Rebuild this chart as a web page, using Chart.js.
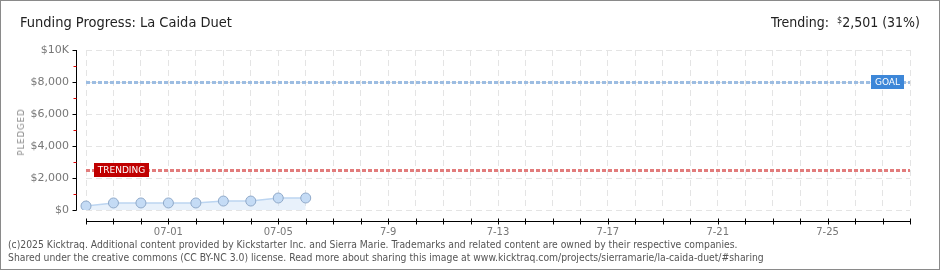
<!DOCTYPE html>
<html>
<head>
<meta charset="utf-8">
<script src="https://cdn.jsdelivr.net/npm/chart.js"></script>
<style>
  body { margin: 0; background: #fff; }
  #wrap { position: relative; width: 940px; height: 270px; box-sizing: border-box; border: 1px solid #8a8a8a; overflow: hidden; }
  #myChart { position: absolute; left: -1px; top: -1px; }
  .txt { position: absolute; white-space: nowrap; font-family: 'Liberation Sans Narrow', 'DejaVu Sans Condensed', sans-serif; }
  #title { left: 19px; top: 13px; font-size: 14.5px; color: #222; }
  #trend { right: 19px; top: 13px; font-size: 14px; color: #222; }
  #trend sup { font-size: 9px; vertical-align: 4px; }
  #pledged { left: 20px; top: 131px; transform: translate(-50%, -50%) rotate(-90deg); font-family: 'DejaVu Sans', sans-serif; font-size: 8.5px; letter-spacing: 1px; color: #888; }
  #foot { left: 7px; top: 237px; font-size: 10.3px; line-height: 13px; color: #555; }
</style>
</head>
<body>
<div id="wrap">
  <canvas id="myChart" width="940" height="270"></canvas>
  <div class="txt" id="title">Funding Progress: La Caida Duet</div>
  <div class="txt" id="trend">Trending:&nbsp; <sup>$</sup>2,501 (31%)</div>
  <div class="txt" id="pledged">PLEDGED</div>
  <div class="txt" id="foot">(c)2025 Kicktraq. Additional content provided by Kickstarter Inc. and Sierra Marie. Trademarks and related content are owned by their respective companies.<br>Shared under the creative commons (CC BY-NC 3.0) license. Read more about sharing this image at www.kicktraq.com/projects/sierramarie/la-caida-duet/#sharing</div>
</div>
<script>
// days from 06-28 to 07-28, only some get a label
const days = ['', '', '', '07-01', '', '', '', '07-05', '', '', '', '7-9', '', '', '', '7-13',
              '', '', '', '7-17', '', '', '', '7-21', '', '', '', '7-25', '', '', ''];
// pledged total per day
const pledged = [250, 440, 440, 440, 440, 560, 560, 750, 750];
const goal = 8000;
const trending = 2501;
const yTicks = [0, 2000, 4000, 6000, 8000, 10000];

// draws the offset axes, goal / trending lines and their tags
const kickPlugin = {
  id: 'kick',
  beforeDatasetsDraw(chart) {
    const c = chart.ctx, a = chart.chartArea, y = chart.scales.y;
    function dotted(v, col) {
      const py = Math.round(y.getPixelForValue(v)) + 0.5;
      c.save();
      c.strokeStyle = col;
      c.lineWidth = 3;
      c.setLineDash([4, 2]);
      c.beginPath(); c.moveTo(a.left, py); c.lineTo(a.right, py); c.stroke();
      c.restore();
    }
    dotted(goal, '#9dbde2');
    dotted(trending, '#e27c7c');
  },
  afterDraw(chart) {
    const c = chart.ctx, a = chart.chartArea, y = chart.scales.y, x = chart.scales.x;
    c.save();
    // y axis
    const ax = a.left - 9.5;
    c.strokeStyle = '#000'; c.lineWidth = 1;
    c.beginPath(); c.moveTo(ax, a.top); c.lineTo(ax, a.bottom + 0.5); c.stroke();
    for (let v = 0; v <= 10000; v += 1000) {
      const py = Math.round(y.getPixelForValue(v)) + 0.5;
      c.strokeStyle = v % 2000 === 0 ? '#000' : '#e00000';
      c.beginPath(); c.moveTo(v % 2000 === 0 ? ax - 4 : ax - 3, py); c.lineTo(ax, py); c.stroke();
    }
    // x axis
    const ay = a.bottom + 11.5;
    c.strokeStyle = '#000';
    c.beginPath(); c.moveTo(a.left, ay); c.lineTo(a.right, ay); c.stroke();
    for (let i = 0; i < days.length; i++) {
      const px = Math.round(x.getPixelForValue(i)) + 0.5;
      c.beginPath(); c.moveTo(px, ay - 3); c.lineTo(px, ay + 3); c.stroke();
    }
    // tags
    function tag(text, bx, cy, w, col, alignRight) {
      const h = 14;
      const left = alignRight ? bx - w : bx;
      c.fillStyle = col;
      c.fillRect(left, Math.round(cy - h / 2), w, h);
      c.fillStyle = '#fff';
      c.font = '9px "DejaVu Sans", sans-serif';
      c.textAlign = 'center'; c.textBaseline = 'middle';
      c.fillText(text, left + w / 2, cy + 0.5);
    }
    tag('GOAL', a.right - 6, y.getPixelForValue(goal), 33, '#3d87d8', true);
    tag('TRENDING', a.left + 8, y.getPixelForValue(trending), 55, '#c00000', false);
    c.restore();
  }
};

new Chart(document.getElementById('myChart'), {
  type: 'line',
  data: {
    labels: days,
    datasets: [{
      data: pledged,
      borderColor: '#bcd5f1',
      borderWidth: 1.5,
      backgroundColor: 'rgba(205,224,246,0.45)',
      fill: 'origin',
      tension: 0,
      pointRadius: 5,
      pointBackgroundColor: '#c4dbf5',
      pointBorderColor: '#8fa9c9',
      pointBorderWidth: 1
    }]
  },
  options: {
    responsive: false,
    animation: false,
    layout: { padding: { left: 0, top: 50, right: 30, bottom: 0 } },
    plugins: { legend: { display: false }, tooltip: { enabled: false } },
    scales: {
      x: {
        offset: false,
        afterFit(s) { s.height = 60; },
        grid: { color: '#e4e4e4', drawTicks: false },
        border: { display: false, dash: [6, 4] },
        ticks: { autoSkip: false, maxRotation: 0, padding: 16, color: '#777',
                 font: { family: 'DejaVu Sans', size: 10 } }
      },
      y: {
        min: 0, max: 10000,
        afterFit(s) { s.width = 86; },
        afterBuildTicks(s) { s.ticks = yTicks.map(v => ({ value: v })); },
        grid: { color: '#e4e4e4', drawTicks: false },
        border: { display: false, dash: [6, 4] },
        ticks: {
          padding: 17, color: '#777',
          font: { family: 'DejaVu Sans', size: 11 },
          callback: v => v === 10000 ? '$10K' : '$' + v.toLocaleString('en-US')
        }
      }
    }
  },
  plugins: [kickPlugin]
});
</script>
</body>
</html>
